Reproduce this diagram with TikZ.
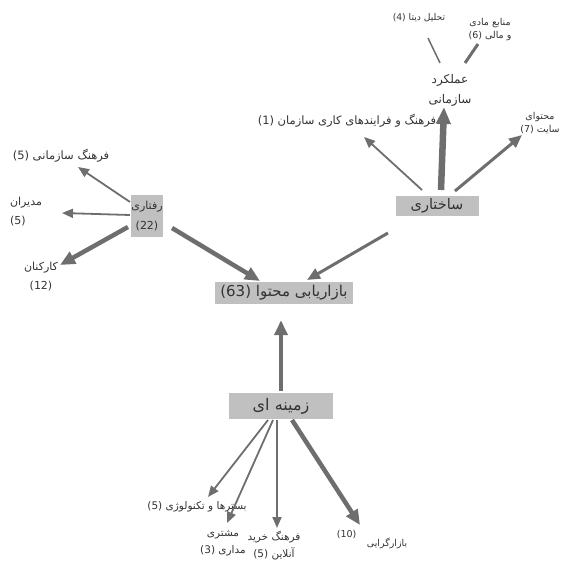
\documentclass[tikz,border=0pt]{standalone}
\usepackage{fontspec}
\usepackage{tikz}
\usetikzlibrary{arrows.meta}

\newfontfamily\farsifont[Script=Arabic]{DejaVu Sans}
\TeXXeTstate=1
\newcommand{\rl}[1]{\beginR#1\endR}
\newcommand{\lr}[1]{\beginL#1\endL{}}

\definecolor{cajagris}{HTML}{C0C0C0}
\definecolor{flechagris}{HTML}{6E6E6E}
\definecolor{textogris}{HTML}{333333}

\tikzset{
	letra/.style 2 args={font=\farsifont\fontsize{#1}{#2}\selectfont},
	caja/.style={fill=cajagris, text=textogris, inner sep=0pt, align=center},
	etiq/.style={text=textogris, inner sep=1pt, align=center},
	flechaFina/.style={flechagris, line width=1.8pt, -{Triangle[length=11pt,width=9pt]}},
	flechaMedia/.style={flechagris, line width=3pt, -{Triangle[length=13pt,width=11pt]}},
	flechaGruesa/.style={flechagris, line width=4.5pt, -{Triangle[length=15pt,width=13pt]}},
	flechaMuyGruesa/.style={flechagris, line width=6.5pt, -{Triangle[length=17pt,width=14pt]}},
	lineaFina/.style={flechagris, line width=1.5pt},
	lineaMedia/.style={flechagris, line width=3pt}
}

\begin{document}
\begin{tikzpicture}[x=1pt,y=-1pt]
	\useasboundingbox (0,0) rectangle (560,561);
	
	% Cajas
	\node[caja, minimum width=138, minimum height=22, letra={15}{17}] (bazaryabi) at (284,293) {\rl{بازاریابی محتوا \lr{(63)}}};
	\node[caja, minimum width=31, minimum height=41, letra={11}{20}] (raftari) at (147,216) {\rl{رفتاری}\\(22)};
	\node[caja, minimum width=83, minimum height=19, letra={14.5}{16}] (sakhtari) at (437,206) {\rl{ساختاری}};
	\node[caja, minimum width=104, minimum height=26, letra={16}{18}] (zamine) at (281,406) {\rl{زمینه ای}};
	
	% Etiquetas de arriba
	\node[etiq, letra={12}{20}] (amalkard) at (450,90) {\rl{عملکرد}\\\rl{سازمانی}};
	\node[etiq, letra={9.2}{13}] (tahlil) at (419,18) {\rl{تحلیل دیتا \lr{(4)}}};
	\node[etiq, letra={9.5}{13}] (manabe) at (490,30) {\rl{منابع مادی}\\\rl{و مالی \lr{(6)}}};
	\node[etiq, letra={11.5}{14}] (farayand) at (347,121) {\rl{فرهنگ و فرایندهای کاری سازمان \lr{(1)}}};
	\node[etiq, letra={9.5}{13}] (mohtava) at (540,123) {\rl{محتوای}\\\rl{سایت \lr{(7)}}};
	
	% Etiquetas de la izquierda
	\node[etiq, letra={11.5}{19}] (fsazmani) at (61,156) {\rl{فرهنگ سازمانی \lr{(5)}}};
	\node[etiq, letra={11}{19}, align=left] (modiran) at (26,212) {\rl{مدیران}\\(5)};
	\node[etiq, letra={11}{19}] (karkonan) at (41,277) {\rl{کارکنان}\\(12)};
	
	% Etiquetas de abajo
	\node[etiq, letra={10.5}{13}] (bastar) at (197,507) {\rl{بسترها و تکنولوژی \lr{(5)}}};
	\node[etiq, letra={10.5}{17}] (moshtari) at (223,543) {\rl{مشتری}\\\rl{مداری \lr{(3)}}};
	\node[etiq, letra={10.5}{17}] (kharid) at (274,546) {\rl{فرهنگ خرید}\\\rl{آنلاین \lr{(5)}}};
	\node[etiq, letra={9.5}{13}, label={[etiq, letra={9.5}{13}, xshift=-8pt, yshift=8pt]left:(10)}] (bazargarayi) at (387,543) {\rl{بازارگرایی}};
	
	% Hacia el nodo central
	\draw[flechaGruesa] ([shift={(25,12)}]raftari.center) -- ([shift={(-24,-12)}]bazaryabi.center);
	\draw[flechaMedia] ([shift={(-49,27)}]sakhtari.center) -- ([shift={(23,-13)}]bazaryabi.center);
	\draw[flechaGruesa] ([yshift=2pt]zamine.north) -- ([yshift=-16pt]zamine.north |- bazaryabi.south);
	
	% Desde ساختاری
	\draw[flechaMuyGruesa] ([shift={(4,-16)}]sakhtari.center) -- ([shift={(-6,17)}]amalkard.center);
	\draw[flechaFina] ([shift={(-15,-16)}]sakhtari.center) -- ([shift={(17,16)}]farayand.center);
	\draw[flechaMedia] ([shift={(18,-15)}]sakhtari.center) -- ([shift={(-18,12)}]mohtava.center);
	\draw[lineaFina] ([shift={(-10,-27)}]amalkard.center) -- ([shift={(9,20)}]tahlil.center);
	\draw[lineaMedia] ([shift={(15,-27)}]amalkard.center) -- ([shift={(-12,14)}]manabe.center);
	
	% Desde رفتاری
	\draw[flechaFina] ([shift={(-17,-14)}]raftari.center) -- ([shift={(17,11)}]fsazmani.center);
	\draw[flechaFina] ([shift={(-17,-1)}]raftari.center) -- ([shift={(36,1)}]modiran.center);
	\draw[flechaGruesa] ([shift={(-19,11)}]raftari.center) -- ([shift={(19,-12)}]karkonan.center);
	
	% Desde زمینه ای
	\draw[flechaFina] ([shift={(-13,14)}]zamine.center) -- ([shift={(11,-10)}]bastar.center);
	\draw[flechaFina] ([shift={(-8,14)}]zamine.center) -- ([shift={(4,-20)}]moshtari.center);
	\draw[flechaFina] ([shift={(-4,14)}]zamine.center) -- ([shift={(3,-18)}]kharid.center);
	\draw[flechaGruesa] ([shift={(11,14)}]zamine.center) -- ([shift={(-27,-18)}]bazargarayi.center);
	
\end{tikzpicture}
\end{document}
